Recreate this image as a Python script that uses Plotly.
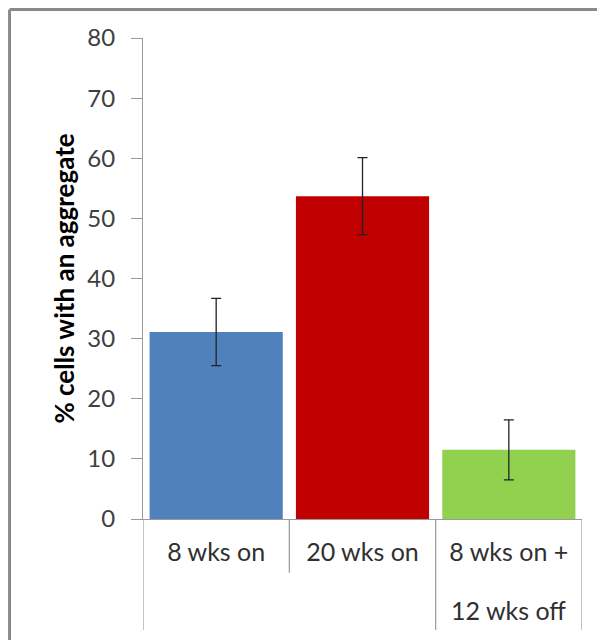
import plotly.graph_objects as go

tick_line1 = ["8 wks on", "20 wks on", "8 wks on +"]
tick_line2 = ["", "", "12 wks off"]
values = [31.1, 53.7, 11.5]
errors = [5.6, 6.4, 5.0]
colors = ["#4F81BD", "#C00000", "#92D050"]
y_ticks = [0, 10, 20, 30, 40, 50, 60, 70, 80]
y_title = "% cells with an aggregate"

FONT = "Lato, 'Liberation Sans', Arial, sans-serif"
idx = list(range(len(tick_line1)))

fig = go.Figure()
fig.add_trace(go.Bar(
    x=idx, y=values,
    marker=dict(color=colors, line=dict(width=0)),
    error_y=dict(type="data", array=errors, visible=True,
                 color="#222222", thickness=1.3, width=5),
    width=0.91,
    hoverinfo="skip",
))

grid = "#9a9a9a"
shapes = []
# category dividers below the x axis
for k in range(len(idx) + 1):
    pos = k - 0.5
    depth = -0.112 if k == 1 else -0.231
    shapes.append(dict(type="line", xref="x", yref="paper", x0=pos, x1=pos,
                       y0=0, y1=depth, line=dict(color=grid, width=1.2)))
# outer frame (top and left edges)
shapes.append(dict(type="line", xref="paper", yref="paper", x0=-0.304, x1=1.06,
                   y0=1.0593, y1=1.0593, line=dict(color="#8a8a8a", width=3)))
shapes.append(dict(type="line", xref="paper", yref="paper", x0=-0.304, x1=-0.304,
                   y0=1.0593, y1=-0.26, line=dict(color="#8a8a8a", width=3)))

annotations = []
for i, t in zip(idx, tick_line2):
    if t:
        annotations.append(dict(text=t, x=i, xref="x", y=-0.189, yref="paper",
                                yanchor="middle", xanchor="center", showarrow=False,
                                font=dict(family=FONT, size=25, color="#303030")))

fig.update_layout(
    width=597, height=632,
    margin=dict(l=135, r=23, t=30, b=121),
    paper_bgcolor="white", plot_bgcolor="white",
    showlegend=False,
    font=dict(family=FONT, color="#404040"),
    shapes=shapes,
    annotations=annotations,
)
fig.update_xaxes(
    range=[-0.5, 2.5], tickmode="array", tickvals=idx, ticktext=tick_line1,
    showline=True, linecolor=grid, linewidth=1.2, showgrid=False, zeroline=False,
    ticks="", tickfont=dict(size=25, color="#303030"), ticklabelstandoff=11,
    fixedrange=True,
)
fig.update_yaxes(
    range=[0, 80], tickmode="array", tickvals=y_ticks,
    showline=True, linecolor=grid, linewidth=1.2, showgrid=False, zeroline=False,
    ticks="outside", ticklen=11, tickcolor=grid, tickwidth=1.2,
    tickfont=dict(size=24, color="#404040"), ticklabelstandoff=11,
    title=dict(text="<b>" + y_title + "</b>", font=dict(size=26, color="#000000"),
               standoff=5),
    fixedrange=True,
)

fig.write_html("out.html")
